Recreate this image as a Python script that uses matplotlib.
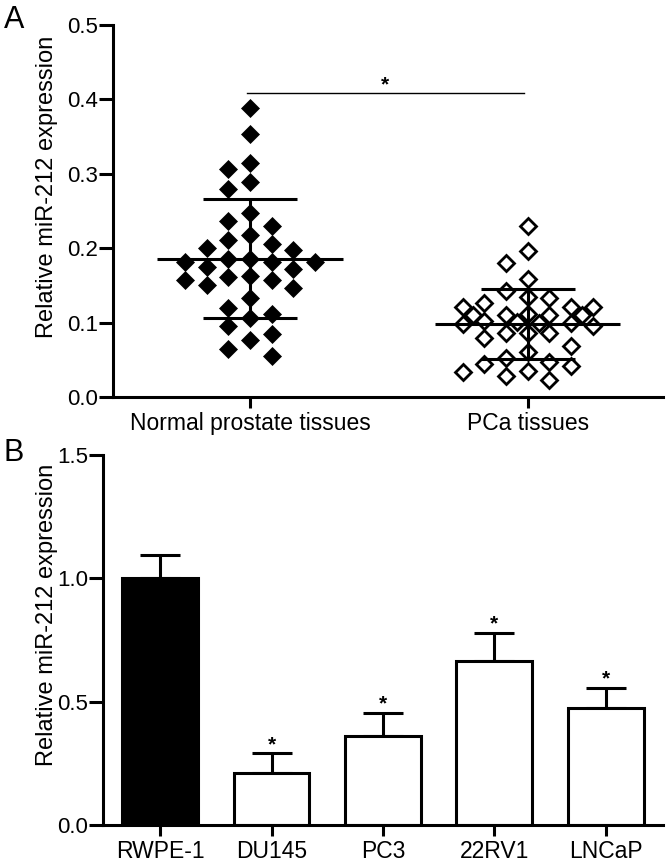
import numpy as np
import matplotlib
matplotlib.use('Agg')
import matplotlib.pyplot as plt

plt.rcParams['font.family'] = ['Liberation Sans', 'DejaVu Sans']

# Panel A data
groups_a = ['Normal prostate tissues', 'PCa tissues']
normal = [0.389, 0.354, 0.315, 0.306, 0.289, 0.280, 0.247, 0.236, 0.230, 0.218,
          0.211, 0.206, 0.200, 0.198, 0.186, 0.186, 0.181, 0.181, 0.181, 0.175,
          0.172, 0.163, 0.161, 0.157, 0.157, 0.151, 0.146, 0.133, 0.120, 0.112,
          0.106, 0.095, 0.085, 0.076, 0.065, 0.055]
pca = [0.230, 0.196, 0.180, 0.158, 0.142, 0.135, 0.133, 0.126, 0.121, 0.121,
       0.121, 0.112, 0.110, 0.110, 0.110, 0.110, 0.102, 0.101, 0.100, 0.099,
       0.098, 0.095, 0.086, 0.086, 0.086, 0.079, 0.068, 0.061, 0.052, 0.047,
       0.044, 0.041, 0.035, 0.034, 0.028, 0.023]
mean_a = [0.186, 0.098]
sd_a = [0.080, 0.047]
sig_a = 0.409

# Panel B data
cells = ['RWPE-1', 'DU145', 'PC3', '22RV1', 'LNCaP']
expr = [1.0, 0.209, 0.362, 0.665, 0.473]
expr_err = [0.094, 0.081, 0.091, 0.112, 0.081]
starred = [False, True, True, True, True]

fig = plt.figure(figsize=(6.66, 8.63), dpi=100)
axA = fig.add_axes([0.170, 0.540, 0.825, 0.431])
axB = fig.add_axes([0.155, 0.044, 0.840, 0.429])

LW = 2.2


def style(ax):
    for s in ['top', 'right']:
        ax.spines[s].set_visible(False)
    for s in ['left', 'bottom']:
        ax.spines[s].set_linewidth(LW)
    ax.tick_params(axis='y', length=10, width=LW, pad=1, labelsize=16)
    ax.tick_params(axis='x', length=8, width=LW, pad=3, labelsize=16.5)


def swarm(values, ax, step_px=21.7, size_px=16.0):
    # simple beeswarm: diamonds packed by L1 distance in pixels
    bb = ax.get_position()
    fw, fh = fig.get_size_inches() * fig.dpi
    x0, x1 = ax.get_xlim()
    y0, y1 = ax.get_ylim()
    xs = bb.width * fw / (x1 - x0)
    ys = bb.height * fh / (y1 - y0)
    cands = [0]
    for k in range(1, 4):
        cands += [-k, k]
    for k in range(0, 4):
        cands += [-(k + 0.5), k + 0.5]
    cands += [-4, 4, -5, 5]
    placed = []
    offs = []
    for v in values:
        for c in cands:
            dx = c * step_px
            ok = all(abs(dx - px) + abs(v - pv) * ys >= size_px for px, pv in placed)
            if ok:
                break
        placed.append((dx, v))
        offs.append(dx / xs)
    return np.array(offs)


# ---- Panel A ----
axA.set_xlim(-0.493, 1.486)
axA.set_ylim(0, 0.5)
style(axA)
axA.set_yticks(np.arange(0, 0.51, 0.1))
axA.set_yticklabels(['%.1f' % t for t in np.arange(0, 0.51, 0.1)])
axA.set_xticks([0, 1])
axA.set_xticklabels(groups_a)

for i, (vals, filled) in enumerate([(normal, True), (pca, False)]):
    offs = swarm(vals, axA)
    if filled:
        axA.plot(i + offs, vals, 'D', ms=9, color='black', mec='black', mew=0.5)
    else:
        axA.plot(i + offs, vals, 'D', ms=8.2, mfc='none', mec='black', mew=2.0)
    m, s = mean_a[i], sd_a[i]
    axA.hlines(m, i - 0.334, i + 0.334, color='black', lw=LW)
    axA.hlines([m - s, m + s], i - 0.17, i + 0.17, color='black', lw=LW)
    axA.vlines(i, m - s, m + s, color='black', lw=LW)

axA.plot([-0.01, 0.985], [sig_a, sig_a], color='black', lw=1)
axA.text(0.487, sig_a - 0.002, '*', ha='center', va='bottom', fontsize=15,
         fontweight='bold')
axA.set_ylabel('Relative miR-212 expression', fontsize=17)
axA.yaxis.set_label_coords(-0.100, 0.565)

# ---- Panel B ----
xb = np.arange(len(cells))
axB.set_xlim(-0.511, 4.511)
axB.set_ylim(0, 1.5)
style(axB)
colors = ['black'] + ['white'] * 4
axB.bar(xb, expr, width=0.68, color=colors, edgecolor='black', linewidth=LW, zorder=2)
axB.errorbar(xb, expr, yerr=[np.zeros(len(expr)), expr_err], fmt='none',
             ecolor='black', elinewidth=LW, capsize=14.5, capthick=LW, zorder=1)
for x, v, e, st in zip(xb, expr, expr_err, starred):
    if st:
        axB.text(x, v + e - 0.002, '*', ha='center', va='bottom', fontsize=15,
                 fontweight='bold')
axB.set_yticks([0, 0.5, 1.0, 1.5])
axB.set_yticklabels(['0.0', '0.5', '1.0', '1.5'])
axB.set_xticks(xb)
axB.set_xticklabels(cells)
axB.set_ylabel('Relative miR-212 expression', fontsize=17)
axB.yaxis.set_label_coords(-0.080, 0.568)

fig.text(0.006, 0.994, 'A', fontsize=22, va='top', ha='left')
fig.text(0.006, 0.492, 'B', fontsize=22, va='top', ha='left')

fig.savefig('out.png', dpi=100)
